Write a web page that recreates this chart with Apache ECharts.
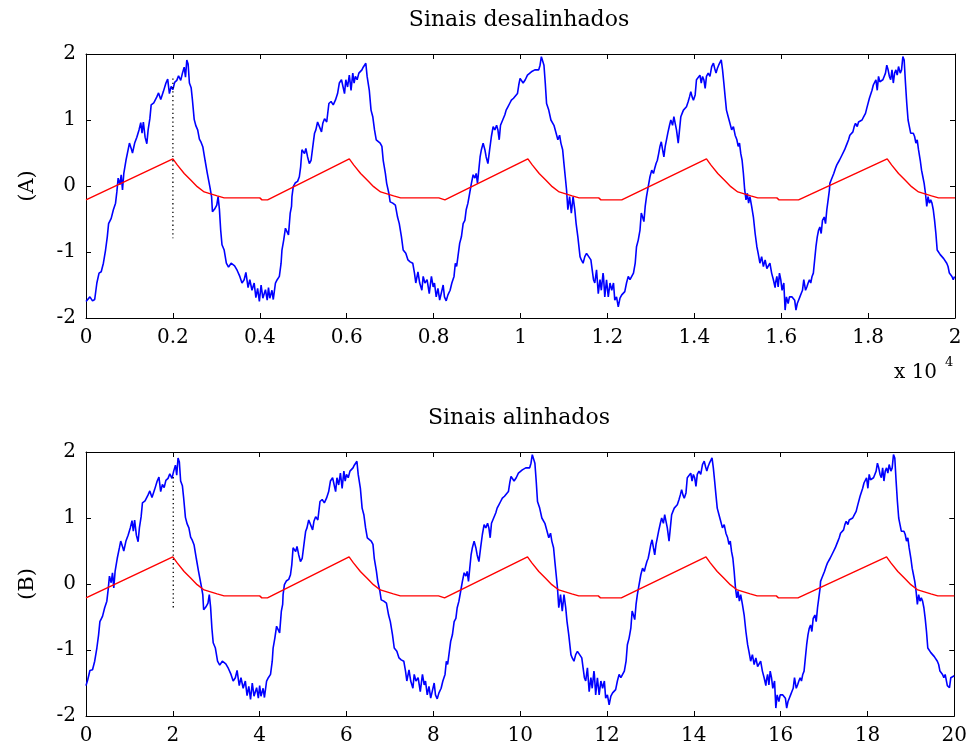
<!DOCTYPE html>
<html>
<head>
<meta charset="utf-8">
<title>Sinais desalinhados / alinhados</title>
<script src="https://cdn.jsdelivr.net/npm/echarts@6/dist/echarts.min.js"></script>
<style>
  html, body { margin: 0; padding: 0; background: #fff; }
  #chart { width: 970px; height: 751px; }
</style>
</head>
<body>
<div id="chart"></div>
<script>
// time axis of the upper plot is in units of 10^4 samples
const titles = ['Sinais desalinhados', 'Sinais alinhados']
const yNames = ['(A)', '(B)']
const yTicks = [-2, -1, 0, 1, 2]
const xTopRange = [0, 2, 0.2]
const xBottomRange = [0, 20, 2]

const blueSeg1 = [
  [0, -1.75], [0.009, -1.68], [0.015, -1.74], [0.020, -1.72], [0.025, -1.47], [0.030, -1.32],
  [0.035, -1.30], [0.040, -1.17], [0.045, -0.97], [0.049, -0.77], [0.052, -0.57], [0.058, -0.49],
  [0.063, -0.36], [0.068, -0.26], [0.071, -0.09], [0.074, 0.12], [0.078, 0.02], [0.081, 0.17],
  [0.084, -0.06], [0.087, 0.19], [0.092, 0.39], [0.097, 0.55], [0.100, 0.65], [0.104, 0.57],
  [0.107, 0.50], [0.112, 0.65], [0.117, 0.74], [0.122, 0.85], [0.126, 0.96], [0.129, 0.80],
  [0.132, 0.97], [0.136, 0.74], [0.140, 0.64], [0.143, 0.85], [0.147, 1.02], [0.150, 1.23],
  [0.156, 1.26], [0.163, 1.35], [0.167, 1.41], [0.172, 1.31], [0.178, 1.43], [0.184, 1.56],
  [0.188, 1.62], [0.192, 1.40], [0.196, 1.51], [0.200, 1.46], [0.204, 1.57], [0.209, 1.60],
  [0.213, 1.67], [0.218, 1.60], [0.222, 1.71], [0.226, 1.80], [0.229, 1.65], [0.232, 1.91],
  [0.235, 1.85], [0.238, 1.56], [0.242, 1.49], [0.245, 1.30], [0.249, 1.01], [0.253, 0.91],
  [0.257, 0.85], [0.261, 0.71], [0.265, 0.66], [0.269, 0.59], [0.274, 0.39], [0.279, 0.20],
  [0.285, -0.01], [0.289, -0.16], [0.291, -0.39], [0.296, -0.35], [0.301, -0.29], [0.304, -0.16],
  [0.307, -0.35], [0.310, -0.67], [0.313, -0.89], [0.318, -0.97], [0.323, -1.17], [0.328, -1.23],
  [0.334, -1.17], [0.342, -1.21], [0.348, -1.28], [0.354, -1.37], [0.359, -1.47], [0.364, -1.42],
  [0.368, -1.31], [0.373, -1.54], [0.377, -1.42], [0.382, -1.58], [0.387, -1.47], [0.391, -1.69],
  [0.395, -1.55], [0.399, -1.75]
]
const blueSeg2 = [
  [0.403, -1.50], [0.407, -1.70], [0.413, -1.57], [0.417, -1.73], [0.420, -1.54], [0.423, -1.70],
  [0.428, -1.58], [0.431, -1.72], [0.436, -1.47], [0.440, -1.42], [0.445, -1.37], [0.449, -1.17],
  [0.451, -0.97], [0.455, -0.82], [0.459, -0.64], [0.462, -0.67], [0.466, -0.74], [0.470, -0.41],
  [0.473, -0.31], [0.474, -0.16], [0.477, -0.01], [0.482, 0.05], [0.487, 0.07], [0.491, 0.14],
  [0.494, 0.29], [0.497, 0.55], [0.503, 0.49], [0.506, 0.57], [0.510, 0.44], [0.514, 0.34],
  [0.518, 0.39], [0.523, 0.65], [0.526, 0.80], [0.529, 0.85], [0.533, 0.97], [0.537, 1.00],
  [0.542, 0.82], [0.545, 0.95], [0.549, 1.02], [0.554, 0.97], [0.559, 1.25], [0.564, 1.28],
  [0.569, 1.23], [0.574, 1.30], [0.579, 1.40], [0.583, 1.56], [0.588, 1.61], [0.592, 1.63],
  [0.595, 1.40], [0.598, 1.61], [0.602, 1.50], [0.606, 1.68], [0.610, 1.45], [0.614, 1.71],
  [0.617, 1.56], [0.620, 1.66], [0.624, 1.61], [0.628, 1.71], [0.631, 1.73], [0.635, 1.76],
  [0.638, 1.80], [0.641, 1.83], [0.644, 1.86], [0.647, 1.66], [0.652, 1.45], [0.656, 1.15],
  [0.660, 1.05], [0.664, 0.85], [0.668, 0.70], [0.672, 0.72], [0.677, 0.65], [0.681, 0.60],
  [0.684, 0.39], [0.689, 0.19], [0.692, 0.04], [0.697, -0.11], [0.700, -0.24], [0.706, -0.26],
  [0.712, -0.29], [0.717, -0.47], [0.721, -0.57], [0.726, -0.77], [0.730, -0.97], [0.736, -1.02],
  [0.741, -1.12], [0.746, -1.15], [0.752, -1.17], [0.756, -1.32], [0.759, -1.47], [0.764, -1.30],
  [0.768, -1.47], [0.773, -1.58], [0.776, -1.37], [0.780, -1.47], [0.785, -1.42], [0.790, -1.63],
  [0.794, -1.42]
]
const blueSeg3 = [
  [0.795, -1.37], [0.799, -1.53], [0.802, -1.47], [0.806, -1.68], [0.810, -1.55], [0.814, -1.73],
  [0.818, -1.75], [0.822, -1.50], [0.825, -1.68], [0.829, -1.74], [0.833, -1.65], [0.838, -1.58],
  [0.842, -1.47], [0.847, -1.37], [0.850, -1.17], [0.853, -1.22], [0.856, -1.07], [0.860, -0.87],
  [0.864, -0.77], [0.868, -0.57], [0.872, -0.52], [0.875, -0.36], [0.879, -0.26], [0.883, -0.11],
  [0.887, 0.04], [0.891, 0.17], [0.895, 0.12], [0.898, 0.19], [0.901, 0.04], [0.904, 0.24],
  [0.907, 0.44], [0.910, 0.55], [0.914, 0.65], [0.918, 0.55], [0.921, 0.44], [0.925, 0.34],
  [0.929, 0.55], [0.933, 0.75], [0.937, 0.90], [0.941, 0.85], [0.945, 0.92], [0.948, 0.85],
  [0.951, 0.70], [0.954, 0.92], [0.959, 1.00], [0.964, 1.08], [0.967, 1.15], [0.971, 1.20],
  [0.975, 1.25], [0.979, 1.30], [0.984, 1.33], [0.988, 1.35], [0.993, 1.40], [0.996, 1.53],
  [0.999, 1.63], [1.002, 1.61], [1.006, 1.56], [1.011, 1.61], [1.016, 1.68], [1.020, 1.71],
  [1.025, 1.73], [1.029, 1.72], [1.033, 1.76], [1.037, 1.78], [1.042, 1.76], [1.045, 1.83],
  [1.048, 1.96], [1.051, 1.98], [1.054, 1.83], [1.057, 1.56], [1.060, 1.25], [1.065, 1.15],
  [1.070, 1.00], [1.073, 1.02], [1.077, 0.92], [1.082, 0.80], [1.086, 0.70], [1.090, 0.77],
  [1.093, 0.65], [1.097, 0.55], [1.100, 0.34], [1.103, 0.14], [1.106, -0.06], [1.109, -0.36],
  [1.113, -0.16], [1.117, -0.41], [1.121, -0.16], [1.125, -0.36], [1.128, -0.57], [1.132, -0.77],
  [1.137, -1.07], [1.140, -1.12], [1.144, -1.17], [1.148, -1.07], [1.152, -1.02], [1.157, -1.07],
  [1.162, -1.12], [1.165, -1.27], [1.168, -1.42], [1.171, -1.47], [1.175, -1.27], [1.179, -1.63],
  [1.183, -1.42], [1.186, -1.58], [1.190, -1.32]
]
const blueSeg4 = [
  [1.191, -1.37], [1.194, -1.68], [1.198, -1.42], [1.202, -1.68], [1.206, -1.47], [1.210, -1.58],
  [1.214, -1.47], [1.217, -1.73], [1.221, -1.68], [1.225, -1.83], [1.229, -1.70], [1.233, -1.65],
  [1.237, -1.68], [1.240, -1.60], [1.244, -1.47], [1.248, -1.37], [1.252, -1.42], [1.256, -1.37],
  [1.260, -1.32], [1.264, -1.17], [1.267, -0.92], [1.271, -0.82], [1.275, -0.67], [1.278, -0.41],
  [1.281, -0.47], [1.284, -0.54], [1.287, -0.31], [1.290, -0.16], [1.294, -0.01], [1.298, 0.14],
  [1.302, 0.24], [1.306, 0.19], [1.309, 0.27], [1.312, 0.34], [1.315, 0.39], [1.318, 0.49],
  [1.321, 0.60], [1.324, 0.67], [1.327, 0.55], [1.330, 0.44], [1.333, 0.60], [1.336, 0.70],
  [1.339, 0.80], [1.343, 0.92], [1.346, 1.00], [1.350, 0.92], [1.353, 1.05], [1.356, 0.95],
  [1.359, 0.85], [1.363, 0.65], [1.366, 0.85], [1.369, 1.05], [1.372, 1.10], [1.375, 1.15],
  [1.379, 1.13], [1.382, 1.20], [1.386, 1.28], [1.389, 1.35], [1.392, 1.43], [1.395, 1.35],
  [1.398, 1.30], [1.402, 1.38], [1.405, 1.61], [1.409, 1.63], [1.413, 1.68], [1.416, 1.56],
  [1.419, 1.66], [1.422, 1.61], [1.425, 1.48], [1.428, 1.66], [1.432, 1.71], [1.436, 1.66],
  [1.440, 1.81], [1.444, 1.86], [1.447, 1.78], [1.450, 1.71], [1.453, 1.78], [1.456, 1.83],
  [1.459, 1.86], [1.462, 1.91], [1.465, 1.76], [1.468, 1.56], [1.471, 1.35], [1.474, 1.15],
  [1.478, 1.05], [1.482, 0.95], [1.486, 0.85], [1.490, 0.90], [1.494, 0.77], [1.498, 0.70],
  [1.501, 0.60], [1.504, 0.65], [1.507, 0.49], [1.510, 0.39], [1.513, 0.19], [1.516, -0.06],
  [1.519, -0.21], [1.522, -0.11], [1.525, -0.26], [1.528, -0.16], [1.532, -0.31], [1.536, -0.47],
  [1.540, -0.72], [1.544, -0.92], [1.547, -1.02], [1.551, -1.17], [1.555, -1.07], [1.559, -1.22],
  [1.563, -1.12], [1.567, -1.25], [1.570, -1.27], [1.574, -1.17], [1.578, -1.32], [1.582, -1.42],
  [1.586, -1.54]
]
const blueSeg5 = [
  [1.587, -1.47], [1.590, -1.37], [1.593, -1.53], [1.596, -1.32], [1.599, -1.42], [1.602, -1.58],
  [1.606, -1.47], [1.609, -1.88], [1.612, -1.68], [1.616, -1.78], [1.619, -1.68], [1.622, -1.70],
  [1.625, -1.68], [1.628, -1.65], [1.631, -1.73], [1.634, -1.88], [1.637, -1.78], [1.640, -1.73],
  [1.643, -1.68], [1.646, -1.63], [1.649, -1.58], [1.652, -1.42], [1.656, -1.58], [1.659, -1.53],
  [1.662, -1.47], [1.665, -1.42], [1.668, -1.47], [1.671, -1.37], [1.674, -1.32], [1.677, -1.12],
  [1.680, -0.92], [1.683, -0.77], [1.686, -0.67], [1.689, -0.62], [1.692, -0.72], [1.695, -0.52],
  [1.699, -0.47], [1.702, -0.57], [1.705, -0.36], [1.708, -0.21], [1.711, -0.06], [1.712, 0.04],
  [1.715, 0.09], [1.718, 0.14], [1.721, 0.19], [1.725, 0.27], [1.728, 0.32], [1.731, 0.34],
  [1.734, 0.39], [1.737, 0.42], [1.740, 0.47], [1.743, 0.44], [1.746, 0.55], [1.749, 0.60],
  [1.752, 0.65], [1.755, 0.70], [1.758, 0.77], [1.761, 0.75], [1.765, 0.82], [1.768, 0.90],
  [1.771, 0.95], [1.775, 0.90], [1.778, 0.97], [1.782, 0.95], [1.786, 1.00], [1.790, 1.05],
  [1.794, 1.10], [1.797, 1.18], [1.800, 1.20], [1.803, 1.33], [1.806, 1.35], [1.809, 1.45],
  [1.812, 1.53], [1.815, 1.50], [1.818, 1.61], [1.821, 1.45], [1.824, 1.66], [1.827, 1.58],
  [1.830, 1.56], [1.834, 1.61], [1.837, 1.66], [1.840, 1.71], [1.843, 1.83], [1.846, 1.76],
  [1.849, 1.66], [1.852, 1.61], [1.855, 1.76], [1.858, 1.56], [1.861, 1.71], [1.864, 1.76],
  [1.867, 1.68], [1.870, 1.81], [1.874, 1.71], [1.877, 1.76], [1.880, 1.96], [1.883, 1.91],
  [1.886, 1.56], [1.889, 1.25], [1.892, 1.00], [1.895, 0.90], [1.898, 0.80], [1.901, 0.77],
  [1.904, 0.80], [1.907, 0.75], [1.910, 0.65], [1.913, 0.70], [1.916, 0.55], [1.920, 0.39],
  [1.923, 0.24], [1.926, 0.14], [1.929, 0.04], [1.932, -0.11], [1.935, -0.31], [1.938, -0.16],
  [1.941, -0.26], [1.944, -0.21], [1.947, -0.26], [1.950, -0.36], [1.953, -0.52], [1.956, -0.72],
  [1.959, -0.97], [1.962, -0.99], [1.966, -1.04], [1.970, -1.07], [1.974, -1.10], [1.978, -1.12],
  [1.981, -1.17], [1.984, -1.22], [1.987, -1.32], [1.990, -1.30], [1.993, -1.37], [1.996, -1.42],
  [1.999, -1.37]
]
// samples seen only at the two ends of the aligned signal (lower plot units)
const blueHeadAligned = [[0, -1.54], [0.04, -1.45], [0.09, -1.31]]
const blueTailAligned = [[19.84, -1.54], [19.89, -1.57], [19.92, -1.42], [19.96, -1.45], [20, -1.39]]
// shift applied to align the blue signal (upper plot units)
const alignLag = 0.02

// reference signal (red)
const redRef = [
  [0, -0.21], [0.2, 0.41], [0.21, 0.32], [0.226, 0.19], [0.241, 0.09], [0.256, -0.01], [0.272, -0.09],
  [0.287, -0.12], [0.302, -0.15], [0.318, -0.18], [0.40, -0.18], [0.405, -0.21], [0.418, -0.21],
  [0.606, 0.41], [0.616, 0.32], [0.632, 0.19], [0.647, 0.09], [0.662, -0.01], [0.678, -0.09],
  [0.693, -0.12], [0.708, -0.15], [0.724, -0.18], [0.812, -0.18], [0.816, -0.21], [0.826, -0.21],
  [1.017, 0.41], [1.027, 0.32], [1.043, 0.19], [1.058, 0.09], [1.073, -0.01], [1.089, -0.09],
  [1.104, -0.12], [1.119, -0.15], [1.135, -0.18], [1.18, -0.18], [1.185, -0.21], [1.233, -0.21],
  [1.428, 0.41], [1.438, 0.32], [1.454, 0.19], [1.469, 0.09], [1.484, -0.01], [1.50, -0.09],
  [1.515, -0.12], [1.53, -0.15], [1.546, -0.18], [1.59, -0.18], [1.595, -0.21], [1.64, -0.21],
  [1.844, 0.41], [1.854, 0.32], [1.87, 0.19], [1.885, 0.09], [1.90, -0.01], [1.916, -0.09],
  [1.931, -0.12], [1.946, -0.15], [1.962, -0.18], [2.0, -0.18]
]

// dotted markers: [x, yTop, yBottom]
const markerTop = [0.2, 1.63, -0.79]
const markerBottom = [2.01, 1.62, -0.36]

const blueTop = [].concat(blueSeg1, blueSeg2, blueSeg3, blueSeg4, blueSeg5)
const blueShifted = blueTop
  .map(p => [(p[0] - alignLag) * 10, p[1]])
  .filter(p => p[0] > 0.1)
const blueBottom = [].concat(blueHeadAligned, blueShifted, blueTailAligned)
const redBottom = redRef.map(p => [p[0] * 10, p[1]])

const FONT = '"DejaVu Serif"'
const txt = { color: '#000', fontFamily: 'DejaVu Serif', fontSize: 20 }

function xAxisPair(grid, range) {
  const base = {
    gridIndex: grid,
    type: 'value',
    min: range[0],
    max: range[1],
    interval: range[2],
    splitLine: { show: false },
    axisLine: { onZero: false, lineStyle: { color: '#000', width: 1 } },
    axisTick: { inside: true, length: 5, lineStyle: { color: '#000' } }
  }
  return [
    Object.assign({}, base, { position: 'bottom', axisLabel: Object.assign({ margin: 10 }, txt) }),
    Object.assign({}, base, { position: 'top', axisLabel: { show: false } })
  ]
}

function yAxisPair(grid, name) {
  const base = {
    gridIndex: grid,
    type: 'value',
    min: yTicks[0],
    max: yTicks[yTicks.length - 1],
    interval: 1,
    splitLine: { show: false },
    axisLine: { onZero: false, lineStyle: { color: '#000', width: 1 } },
    axisTick: { inside: true, length: 5, lineStyle: { color: '#000' } }
  }
  return [
    Object.assign({}, base, {
      position: 'left',
      name: name,
      nameLocation: 'middle',
      nameGap: 48,
      nameTextStyle: Object.assign({}, txt, { fontSize: 21 }),
      axisLabel: Object.assign({ margin: 10 }, txt)
    }),
    Object.assign({}, base, { position: 'right', axisLabel: { show: false } })
  ]
}

function lineSeries(xi, data, color, width) {
  return {
    type: 'line',
    xAxisIndex: xi,
    yAxisIndex: xi,
    data: data,
    showSymbol: false,
    symbol: 'none',
    clip: true,
    silent: true,
    lineStyle: { color: color, width: width }
  }
}

function markerSeries(xi, m) {
  return {
    type: 'line',
    xAxisIndex: xi,
    yAxisIndex: xi,
    data: [[m[0], m[1]], [m[0], m[2]]],
    symbol: 'none',
    silent: true,
    lineStyle: { color: '#000', width: 1.3, type: [1.3, 3] }
  }
}

const chart = echarts.init(document.getElementById('chart'))

chart.setOption({
  animation: false,
  backgroundColor: '#fff',
  grid: [
    { left: 86, top: 54, width: 869, height: 264 },
    { left: 86, top: 452, width: 869, height: 264 }
  ],
  xAxis: [].concat(xAxisPair(0, xTopRange), xAxisPair(1, xBottomRange)),
  yAxis: [].concat(yAxisPair(0, yNames[0]), yAxisPair(1, yNames[1])),
  graphic: [
    { type: 'text', x: 519, y: 9, style: { text: titles[0], font: '22px ' + FONT, fill: '#000', textAlign: 'center' } },
    { type: 'text', x: 519, y: 407, style: { text: titles[1], font: '22px ' + FONT, fill: '#000', textAlign: 'center' } },
    { type: 'text', x: 894, y: 363, style: { text: 'x 10', font: '20px ' + FONT, fill: '#000' } },
    { type: 'text', x: 945, y: 356, style: { text: '4', font: '13px ' + FONT, fill: '#000' } }
  ],
  series: [
    lineSeries(0, blueTop, '#0000ff', 1.6),
    lineSeries(0, redRef, '#ff0000', 1.4),
    markerSeries(0, markerTop),
    lineSeries(2, blueBottom, '#0000ff', 1.6),
    lineSeries(2, redBottom, '#ff0000', 1.4),
    markerSeries(2, markerBottom)
  ]
})
</script>
</body>
</html>
